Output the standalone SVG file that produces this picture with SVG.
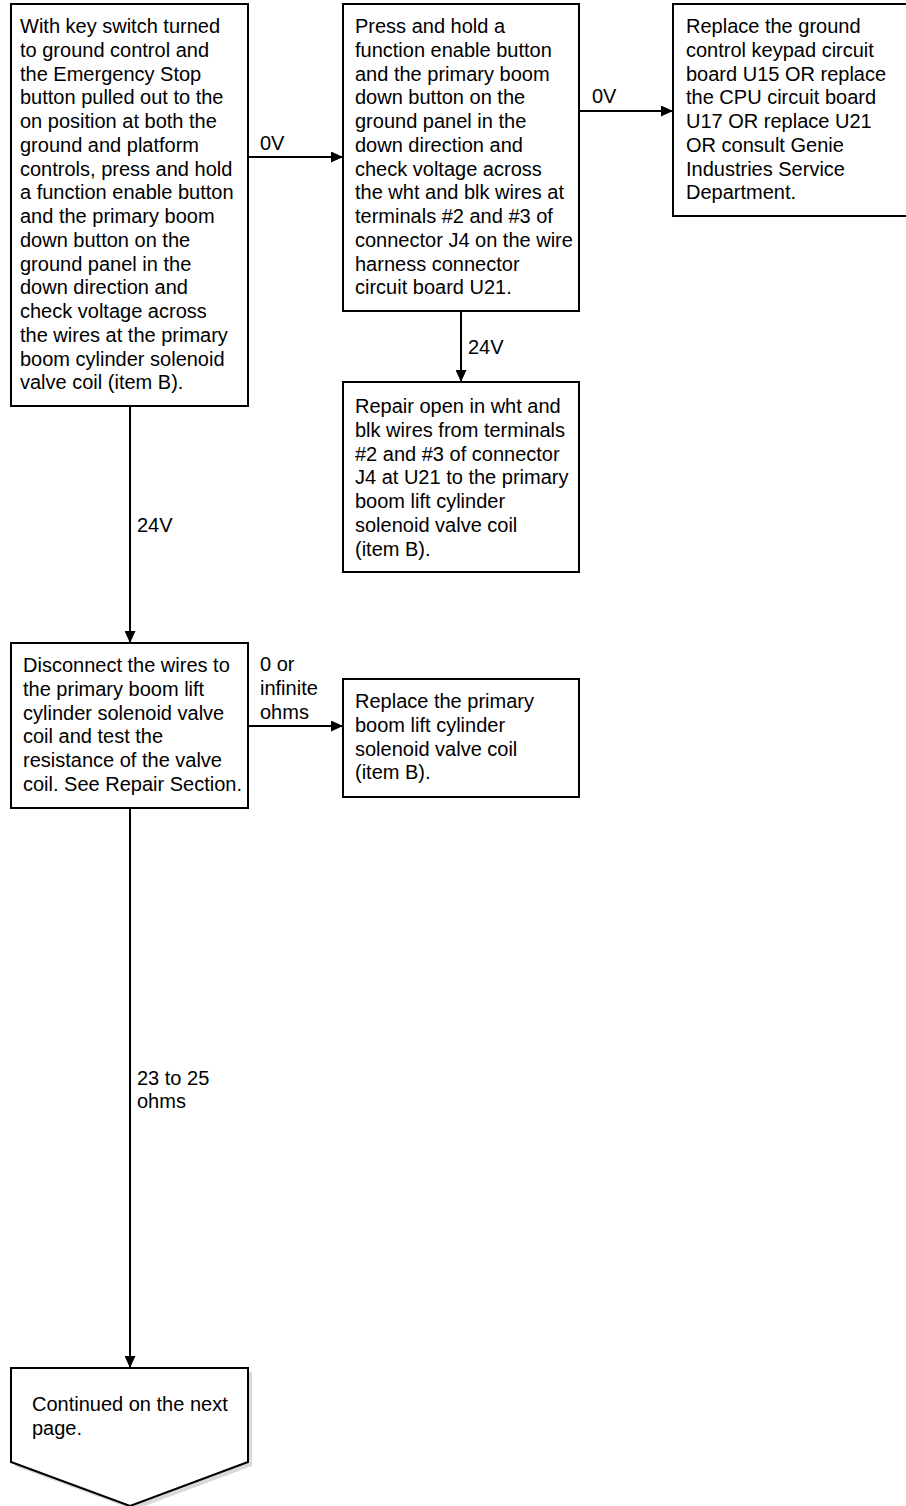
<svg xmlns="http://www.w3.org/2000/svg" width="906" height="1506" viewBox="0 0 906 1506">
<defs>
<marker id="ah" markerWidth="12" markerHeight="11" refX="12" refY="5.5" orient="auto" markerUnits="userSpaceOnUse">
<path d="M0,0 L12,5.5 L0,11 Z" fill="#000"/>
</marker>
<style>
.box{fill:#fff;stroke:#000;stroke-width:2}
.t{font-family:"Liberation Sans",Arial,sans-serif;font-size:20px;fill:#000}
.c{fill:none;stroke:#000;stroke-width:2;marker-end:url(#ah)}
</style>
</defs>
<rect width="906" height="1506" fill="#fff"/>
<g id="connectors">
<line class="c" x1="248" y1="157" x2="343" y2="157"/>
<line class="c" x1="579" y1="111" x2="673" y2="111"/>
<line class="c" x1="461" y1="311" x2="461" y2="382"/>
<line class="c" x1="130" y1="406" x2="130" y2="643"/>
<line class="c" x1="248" y1="726" x2="343" y2="726"/>
<line class="c" x1="130" y1="808" x2="130" y2="1368"/>
<text class="t" x="260" y="150">0V</text>
<text class="t" x="592" y="103">0V</text>
<text class="t" x="468" y="354">24V</text>
<text class="t" x="137" y="532">24V</text>
<text class="t" x="260" y="671">0 or</text>
<text class="t" x="260" y="695">infinite</text>
<text class="t" x="260" y="719">ohms</text>
<text class="t" x="137" y="1085">23 to 25</text>
<text class="t" x="137" y="1108">ohms</text>
</g>
<g id="n1">
<rect class="box" x="11" y="4" width="237" height="402"/>
<text class="t">
<tspan x="20" y="33">With key switch turned</tspan>
<tspan x="20" y="56.75">to ground control and</tspan>
<tspan x="20" y="80.5">the Emergency Stop</tspan>
<tspan x="20" y="104.25">button pulled out to the</tspan>
<tspan x="20" y="128">on position at both the</tspan>
<tspan x="20" y="151.75">ground and platform</tspan>
<tspan x="20" y="175.5">controls, press and hold</tspan>
<tspan x="20" y="199.25">a function enable button</tspan>
<tspan x="20" y="223">and the primary boom</tspan>
<tspan x="20" y="246.75">down button on the</tspan>
<tspan x="20" y="270.5">ground panel in the</tspan>
<tspan x="20" y="294.25">down direction and</tspan>
<tspan x="20" y="318">check voltage across</tspan>
<tspan x="20" y="341.75">the wires at the primary</tspan>
<tspan x="20" y="365.5">boom cylinder solenoid</tspan>
<tspan x="20" y="389.25">valve coil (item B).</tspan>
</text>
</g>
<g id="n2">
<rect class="box" x="343" y="4" width="236" height="307"/>
<text class="t">
<tspan x="355" y="33">Press and hold a</tspan>
<tspan x="355" y="56.75">function enable button</tspan>
<tspan x="355" y="80.5">and the primary boom</tspan>
<tspan x="355" y="104.25">down button on the</tspan>
<tspan x="355" y="128">ground panel in the</tspan>
<tspan x="355" y="151.75">down direction and</tspan>
<tspan x="355" y="175.5">check voltage across</tspan>
<tspan x="355" y="199.25">the wht and blk wires at</tspan>
<tspan x="355" y="223">terminals #2 and #3 of</tspan>
<tspan x="355" y="246.75">connector J4 on the wire</tspan>
<tspan x="355" y="270.5">harness connector</tspan>
<tspan x="355" y="294.25">circuit board U21.</tspan>
</text>
</g>
<g id="n3">
<rect class="box" x="673" y="4" width="240" height="212"/>
<text class="t">
<tspan x="686" y="33">Replace the ground</tspan>
<tspan x="686" y="56.75">control keypad circuit</tspan>
<tspan x="686" y="80.5">board U15 OR replace</tspan>
<tspan x="686" y="104.25">the CPU circuit board</tspan>
<tspan x="686" y="128">U17 OR replace U21</tspan>
<tspan x="686" y="151.75">OR consult Genie</tspan>
<tspan x="686" y="175.5">Industries Service</tspan>
<tspan x="686" y="199.25">Department.</tspan>
</text>
</g>
<g id="n4">
<rect class="box" x="343" y="382" width="236" height="190"/>
<text class="t">
<tspan x="355" y="413">Repair open in wht and</tspan>
<tspan x="355" y="436.75">blk wires from terminals</tspan>
<tspan x="355" y="460.5">#2 and #3 of connector</tspan>
<tspan x="355" y="484.25">J4 at U21 to the primary</tspan>
<tspan x="355" y="508">boom lift cylinder</tspan>
<tspan x="355" y="531.75">solenoid valve coil</tspan>
<tspan x="355" y="555.5">(item B).</tspan>
</text>
</g>
<g id="n5">
<rect class="box" x="11" y="643" width="237" height="165"/>
<text class="t">
<tspan x="23" y="672">Disconnect the wires to</tspan>
<tspan x="23" y="695.75">the primary boom lift</tspan>
<tspan x="23" y="719.5">cylinder solenoid valve</tspan>
<tspan x="23" y="743.25">coil and test the</tspan>
<tspan x="23" y="767">resistance of the valve</tspan>
<tspan x="23" y="790.75">coil. See Repair Section.</tspan>
</text>
</g>
<g id="n6">
<rect class="box" x="343" y="679" width="236" height="118"/>
<text class="t">
<tspan x="355" y="708">Replace the primary</tspan>
<tspan x="355" y="731.75">boom lift cylinder</tspan>
<tspan x="355" y="755.5">solenoid valve coil</tspan>
<tspan x="355" y="779.25">(item B).</tspan>
</text>
</g>
<g id="n7">
<polygon points="15,1372 252,1372 252,1466 134,1510 15,1466" fill="#d9d9d9"/>
<polygon points="11,1368 248,1368 248,1462 130,1506 11,1462" class="box"/>
<text class="t">
<tspan x="32" y="1411">Continued on the next</tspan>
<tspan x="32" y="1435">page.</tspan>
</text>
</g>
</svg>
